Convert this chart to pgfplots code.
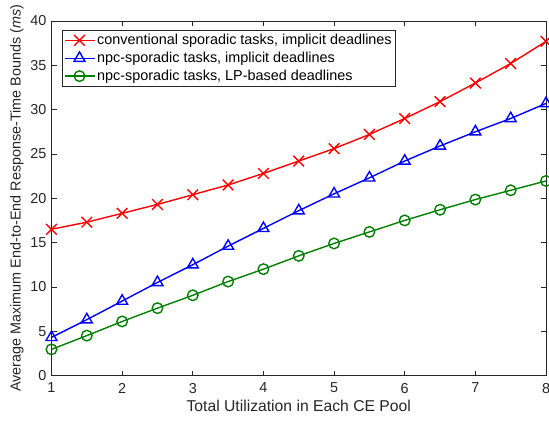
\documentclass[border=0pt]{standalone}
\usepackage{fontspec}
\setmainfont{Liberation Sans}
\usepackage{pgfplots}
\pgfplotsset{compat=1.18}
\definecolor{axgray}{RGB}{38,38,38}
\definecolor{mgreen}{RGB}{0,128,0}

\begin{document}
\begin{tikzpicture}
\begin{axis}[
  scale only axis,
  width=494.5pt, height=354.5pt,
  xmin=1, xmax=8, ymin=0, ymax=40,
  xtick={1,...,8}, ytick={0,5,...,40},
  tick align=inside, major tick length=5pt,
  xtick pos=both, ytick pos=both,
  axis line style={axgray, line width=0.6pt},
  tick style={axgray, line width=0.6pt},
  ticklabel style={font=\fontsize{14.4}{17}\selectfont, text=axgray},
  xticklabel style={yshift=-4pt},
  yticklabel style={xshift=-1.5pt},
  /pgf/number format/assume math mode=true,
  xlabel={Total Utilization in Each CE Pool},
  ylabel={Average Maximum End-to-End Response-Time Bounds (\textit{ms})},
  xlabel style={font=\fontsize{15.7}{18}\selectfont, text=axgray},
  ylabel style={font=\fontsize{14.4}{17}\selectfont, text=axgray},
  legend style={at={(axis description cs:0,1)}, anchor=north west,
    xshift=10pt, yshift=-9pt, draw=axgray, line width=0.6pt,
    font=\fontsize{14.4}{17}\selectfont, text=black,
    inner xsep=2pt, inner ysep=2pt, row sep=2pt},
  legend cell align=left,
  legend image code/.code={\draw[mark repeat=2,mark phase=2] plot coordinates {(0pt,0pt)(15pt,0pt)(30pt,0pt)};},
]
\coordinate (ll) at (rel axis cs:0,0);
\coordinate (ur) at (rel axis cs:1,1);

% conventional sporadic, implicit deadlines
\addplot[red, line width=1.4pt, mark=x, mark size=7.5pt, mark options={solid}]
coordinates {
  (1,16.5) (1.5,17.3) (2,18.3) (2.5,19.3) (3,20.4) (3.5,21.5) (4,22.8)
  (4.5,24.2) (5,25.6) (5.5,27.2) (6,29.0) (6.5,30.9) (7,33.0) (7.5,35.2) (8,37.7)
};
\addlegendentry{conventional sporadic tasks, implicit deadlines}

% npc-sporadic, implicit deadlines
\addplot[blue, line width=1.4pt, mark=triangle, mark size=6.3pt, mark options={solid}]
coordinates {
  (1,4.3) (1.5,6.3) (2,8.4) (2.5,10.5) (3,12.5) (3.5,14.6) (4,16.6)
  (4.5,18.6) (5,20.5) (5.5,22.3) (6,24.2) (6.5,25.9) (7,27.5) (7.5,29.0) (8,30.7)
};
\addlegendentry{npc-sporadic tasks, implicit deadlines}

% npc-sporadic, LP-based deadlines
\addplot[mgreen, line width=1.4pt, mark=o, mark size=5.3pt, mark options={solid}]
coordinates {
  (1,2.95) (1.5,4.5) (2,6.1) (2.5,7.6) (3,9.05) (3.5,10.6) (4,12.0)
  (4.5,13.5) (5,14.9) (5.5,16.2) (6,17.5) (6.5,18.7) (7,19.85) (7.5,20.9) (8,21.95)
};
\addlegendentry{npc-sporadic tasks, LP-based deadlines}
\end{axis}
\path (ll) ++(-51.5pt,-47.5pt) coordinate (bbl) (ur) ++(3pt,21pt) coordinate (bbr);
\pgfresetboundingbox
\path[use as bounding box] (bbl) rectangle (bbr);
\end{tikzpicture}
\end{document}
